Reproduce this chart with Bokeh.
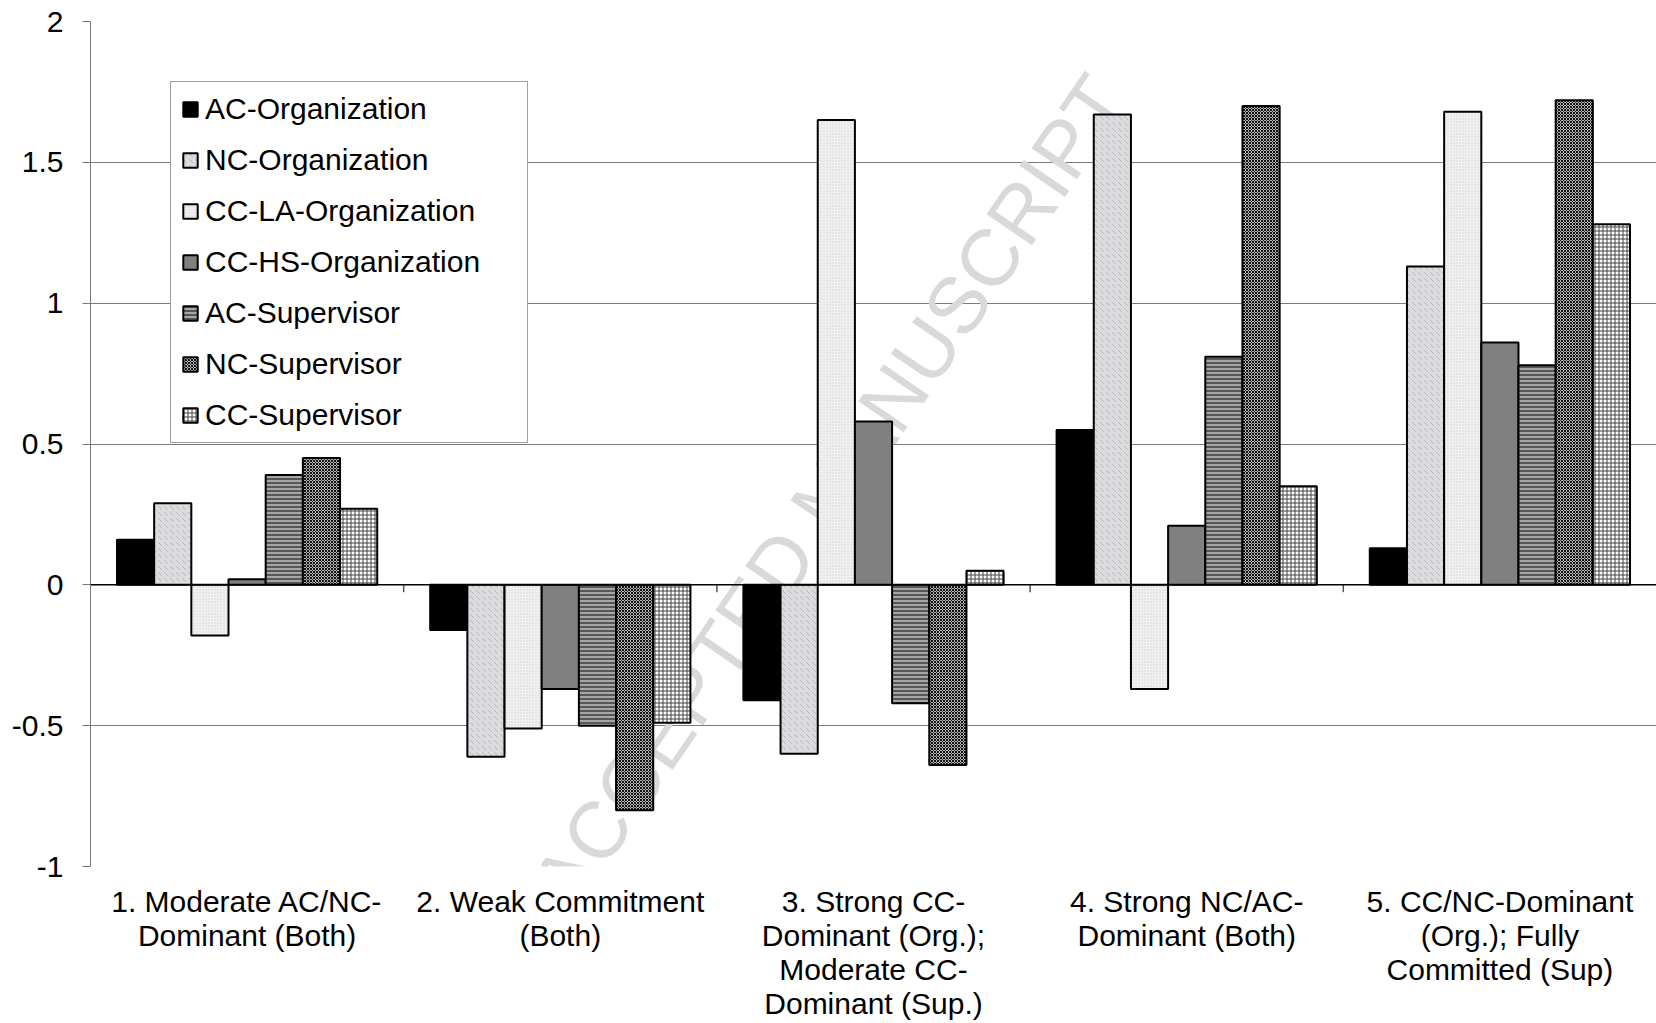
import numpy as np
from bokeh.plotting import figure
from bokeh.models import (ColumnDataSource, Range1d, LinearAxis, FixedTicker,
                          Legend, LegendItem, Label, Span)
from bokeh.transform import dodge
from bokeh.embed import file_html
from bokeh.resources import INLINE

# ---------------- data ----------------
categories = [
    "1. Moderate AC/NC-\nDominant (Both)",
    "2. Weak Commitment\n(Both)",
    "3. Strong CC-\nDominant (Org.);\nModerate CC-\nDominant (Sup.)",
    "4. Strong NC/AC-\nDominant (Both)",
    "5. CC/NC-Dominant\n(Org.); Fully\nCommitted (Sup)",
]
series_names = ["AC-Organization", "NC-Organization", "CC-LA-Organization",
                "CC-HS-Organization", "AC-Supervisor", "NC-Supervisor",
                "CC-Supervisor"]
ac_org = [0.16, -0.16, -0.41, 0.55, 0.13]
nc_org = [0.29, -0.61, -0.60, 1.67, 1.13]
cc_la_org = [-0.18, -0.51, 1.65, -0.37, 1.68]
cc_hs_org = [0.02, -0.37, 0.58, 0.21, 0.86]
ac_sup = [0.39, -0.50, -0.42, 0.81, 0.78]
nc_sup = [0.45, -0.80, -0.64, 1.70, 1.72]
cc_sup = [0.27, -0.49, 0.05, 0.35, 1.28]
series_values = [ac_org, nc_org, cc_la_org, cc_hs_org, ac_sup, nc_sup, cc_sup]
y_tick_values = [-1, -0.5, 0, 0.5, 1, 1.5, 2]
y_tick_labels = ["-1", "-0.5", "0", "0.5", "1", "1.5", "2"]

# ---------------- styles ----------------
styles = [
    dict(fill_color="#000000"),
    dict(fill_color="#dcdcdf", hatch_pattern="left_diagonal_dash", hatch_color="#b4b4ba",
         hatch_scale=6, hatch_weight=1),
    dict(fill_color="#f1f1f1", hatch_pattern="dot", hatch_color="#d2d2d2",
         hatch_scale=3, hatch_weight=1),
    dict(fill_color="#808080"),
    dict(fill_color="#a6a6a6", hatch_pattern="horizontal_line", hatch_color="#2a2a2a",
         hatch_scale=4, hatch_weight=1.3),
    dict(fill_color="#b4b4b4", hatch_pattern="diagonal_cross", hatch_color="#111111",
         hatch_scale=3, hatch_weight=1),
    dict(fill_color="#ffffff", hatch_pattern="cross", hatch_color="#444444",
         hatch_scale=4, hatch_weight=1),
]

FONT = "Liberation Sans"
FS = "30px"
n_groups = len(categories)
n_series = len(series_names)
bar_w = 0.1187

data = {"xc": np.arange(n_groups) + 0.5}
for i, vals in enumerate(series_values):
    data[f"s{i}"] = vals
source = ColumnDataSource(data)

p = figure(width=1656, height=1023, output_backend="svg", toolbar_location=None,
           x_range=Range1d(0, n_groups), y_range=Range1d(-1, 2),
           x_axis_location=None, y_axis_location=None,
           min_border_left=90, min_border_right=0, min_border_top=21,
           min_border_bottom=156)
p.outline_line_color = None
p.background_fill_color = "white"
p.xgrid.visible = False
p.ygrid.ticker = FixedTicker(ticks=y_tick_values)
p.ygrid.grid_line_color = "#7a7a7a"
p.ygrid.grid_line_width = 1

# watermark (behind bars)
wm = Label(x=2.36, y=0.33, text="ACCEPTED MANUSCRIPT", angle=55.6, angle_units="deg",
           text_align="center", text_baseline="middle", text_font=FONT,
           text_font_size="80px", text_color="#d9d9d9", level="underlay")
p.add_layout(wm)

renderers = []
for i in range(n_series):
    off = (i - (n_series - 1) / 2) * bar_w
    r = p.vbar(x=dodge("xc", off, range=p.x_range), top=f"s{i}", bottom=0,
               width=bar_w, source=source, line_color="#000000", line_width=2,
               **styles[i])
    renderers.append(r)

# zero line and category boundary ticks
p.add_layout(Span(location=0, dimension="width", line_color="#000000", line_width=1.5))
bounds = np.arange(1, n_groups)
p.segment(x0=bounds, x1=bounds, y0=np.zeros(len(bounds)), y1=np.full(len(bounds), -0.026),
          line_color="#555555", line_width=1.5)

# y axis
yax = LinearAxis(ticker=FixedTicker(ticks=y_tick_values))
yax.major_label_overrides = {v: lab for v, lab in zip(y_tick_values, y_tick_labels)}
yax.axis_line_color = "#7a7a7a"
yax.major_tick_line_color = "#7a7a7a"
yax.major_tick_out = 8
yax.major_tick_in = 0
yax.minor_tick_line_color = None
yax.major_label_standoff = 19
yax.major_label_text_font = FONT
yax.major_label_text_font_size = FS
yax.major_label_text_color = "#000000"
p.add_layout(yax, "left")

# category labels axis (bottom)
xax = LinearAxis(ticker=FixedTicker(ticks=list(data["xc"])))
xax.major_label_overrides = {float(c): lab for c, lab in zip(data["xc"], categories)}
xax.axis_line_color = None
xax.major_tick_line_color = None
xax.major_tick_out = 0
xax.major_tick_in = 0
xax.minor_tick_line_color = None
xax.major_label_standoff = 18
xax.major_label_text_font = FONT
xax.major_label_text_font_size = FS
xax.major_label_text_line_height = 1.04
xax.major_label_text_color = "#000000"
p.add_layout(xax, "below")

legend = Legend(items=[LegendItem(label=n, renderers=[r]) for n, r in zip(series_names, renderers)],
                location=(80, 423))
legend.label_text_font = FONT
legend.label_text_font_size = FS
legend.label_text_color = "#000000"
legend.glyph_width = 18
legend.glyph_height = 18
legend.label_standoff = 6
legend.label_height = 34
legend.label_width = 312
legend.spacing = 17
legend.padding = 10
legend.margin = 0
legend.border_line_color = "#404040"
legend.border_line_width = 1
legend.background_fill_color = "white"
legend.background_fill_alpha = 1
p.add_layout(legend, "center")

open("out.html", "w").write(file_html(p, INLINE))
